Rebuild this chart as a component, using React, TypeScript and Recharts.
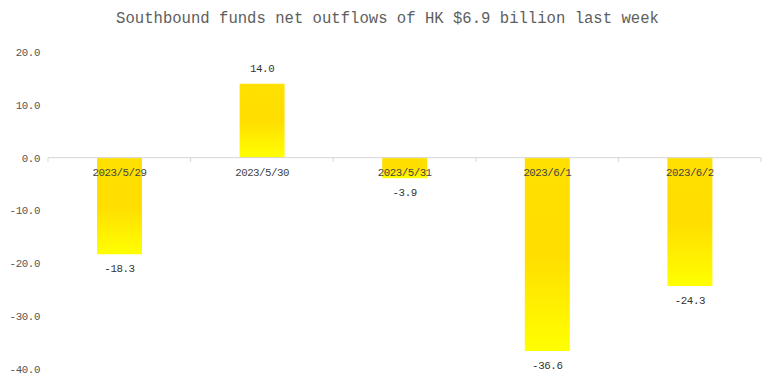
import React from 'react';
import { BarChart, Bar, XAxis, YAxis, ReferenceLine, LabelList } from 'recharts';

const dates = ['2023/5/29', '2023/5/30', '2023/5/31', '2023/6/1', '2023/6/2'];
const flows = [-18.3, 14.0, -3.9, -36.6, -24.3];
const yTicks = [-40, -30, -20, -10, 0, 10, 20];
const xBounds = [0, 1, 2, 3, 4, 5];
const title = 'Southbound funds net outflows of HK $6.9 billion last week';

const data = dates.map((d, i) => ({ pos: i + 0.5, date: d, value: flows[i] }));

const FONT = '"Liberation Mono", "DejaVu Sans Mono", monospace';

const ValueLabel = (props: any) => {
  const { x, y, width, height, index } = props;
  const v = flows[index];
  const top = Math.min(y, y + height);
  const bottom = Math.max(y, y + height);
  const ly = v >= 0 ? top - 15 : bottom + 15;
  return (
    <text x={x + width / 2} y={ly} textAnchor="middle" dominantBaseline="central"
      fontFamily={FONT} fontSize={10.8} letterSpacing={-0.4} fill="#333">
      {v.toFixed(1)}
    </text>
  );
};

const DateLabel = (props: any) => {
  const { x, y, width, height, index } = props;
  const v = flows[index];
  const top = Math.min(y, y + height);
  const bottom = Math.max(y, y + height);
  const base = v >= 0 ? bottom : top;
  return (
    <text x={x + width / 2} y={base + 15} textAnchor="middle" dominantBaseline="central"
      fontFamily={FONT} fontSize={10.8} letterSpacing={-0.5} fill="#444">
      {dates[index]}
    </text>
  );
};

export default function App() {
  return (
    <div style={{ position: 'absolute', left: 0, top: 0, width: 775, height: 384, background: '#fff' }}>
      <div style={{
        position: 'absolute', left: 0, top: 9, width: 775, textAlign: 'center',
        fontFamily: FONT, fontSize: 15.6, lineHeight: '20px', color: '#5e5e5e',
      }}>{title}</div>
      <BarChart width={775} height={384} data={data}
        margin={{ top: 52, right: 14, bottom: 15, left: 0 }}>
        <defs>
          <linearGradient id="barGrad" x1="0" y1="0" x2="0" y2="1">
            <stop offset="0" stopColor="#FFE000" />
            <stop offset="0.5" stopColor="#FFDE00" />
            <stop offset="1" stopColor="#FFFF00" />
          </linearGradient>
        </defs>
        <XAxis type="number" dataKey="pos" domain={[0, 5]} hide allowDataOverflow />
        <YAxis type="number" domain={[-40, 20]} ticks={yTicks} width={48}
          axisLine={false} tickLine={false} tickSize={0} tickMargin={8}
          tickFormatter={(v: number) => v.toFixed(1)}
          tick={{ fontFamily: FONT, fontSize: 10.8, letterSpacing: -0.4, fill: '#555' }} allowDataOverflow />
        <ReferenceLine y={0} stroke="#d6d6d6" strokeWidth={1} />
        {xBounds.map((b) => (
          <ReferenceLine key={b} segment={[{ x: b, y: 0 }, { x: b, y: -0.8 }]} stroke="#d6d6d6" />
        ))}
        <Bar dataKey="value" barSize={45} fill="url(#barGrad)" isAnimationActive={false}>
          <LabelList dataKey="value" content={<ValueLabel />} />
          <LabelList dataKey="date" content={<DateLabel />} />
        </Bar>
      </BarChart>
    </div>
  );
}
